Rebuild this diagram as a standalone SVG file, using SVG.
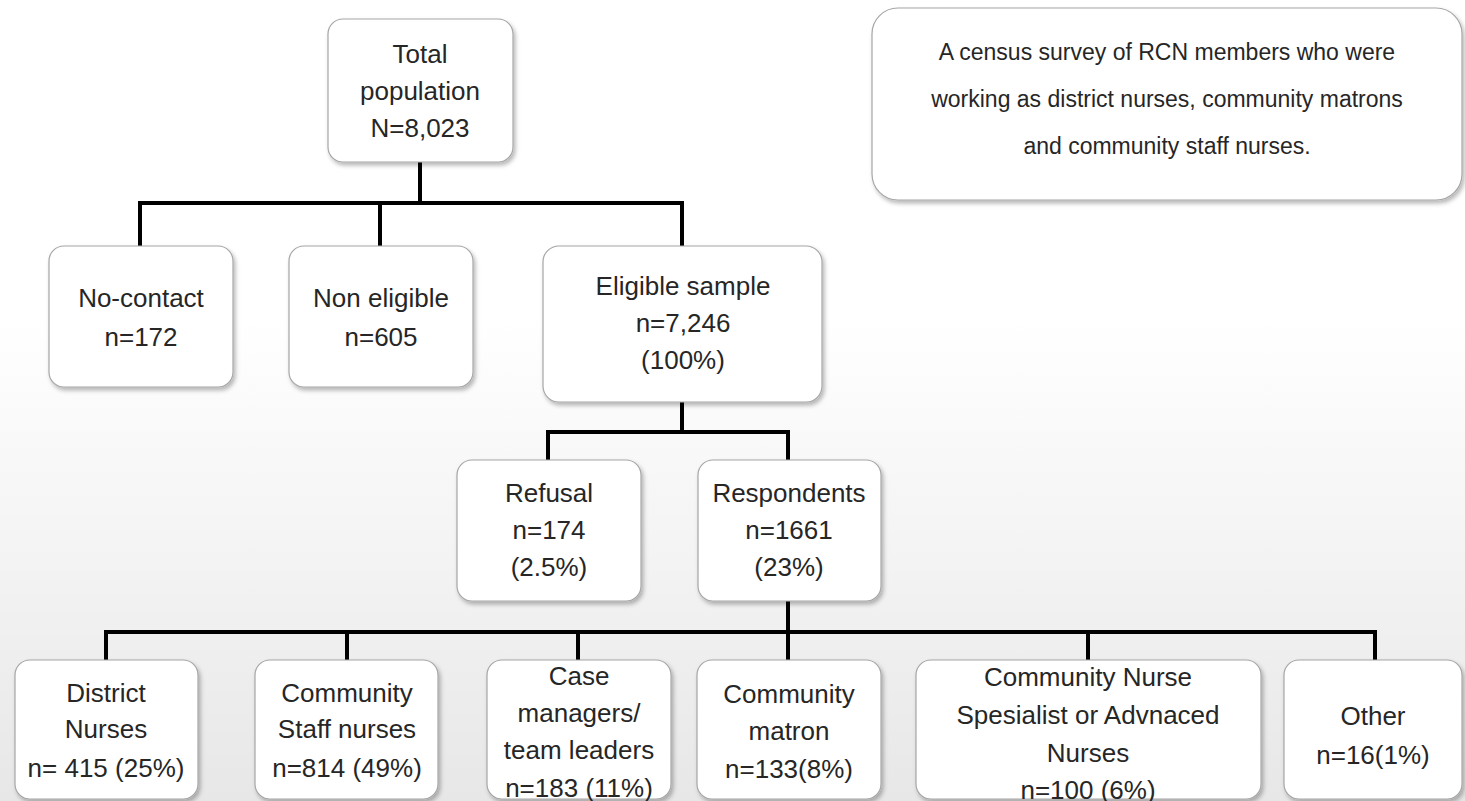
<svg xmlns="http://www.w3.org/2000/svg" width="1465" height="801" viewBox="0 0 1465 801">
<defs>
<linearGradient id="bg" x1="0" y1="0" x2="0" y2="1">
<stop offset="0" stop-color="#ffffff"/>
<stop offset="0.4" stop-color="#ffffff"/>
<stop offset="1" stop-color="#e7e7e7"/>
</linearGradient>
<filter id="sh" x="-10%" y="-10%" width="125%" height="130%">
<feDropShadow dx="2" dy="3" stdDeviation="2" flood-color="#000" flood-opacity="0.28"/>
</filter>
<style>
.box{fill:#ffffff;stroke:#a6a6a6;stroke-width:1.2;filter:url(#sh)}
.t{font-family:"Liberation Sans",Arial,sans-serif;font-size:26px;fill:#262626;text-anchor:middle}
.t2{font-family:"Liberation Sans",Arial,sans-serif;font-size:23px;fill:#262626;text-anchor:middle}
.c{fill:none;stroke:#000;stroke-width:4;stroke-linejoin:miter;stroke-linecap:square}
</style>
</defs>
<rect width="1465" height="801" fill="url(#bg)"/>
<g id="connectors">
<path class="c" d="M420,162 V203 M140,246 V203 H682 V246 M380,203 V246"/>
<path class="c" d="M682,402 V432 M548,460 V432 H788 V460"/>
<path class="c" d="M788,600 V632 M106,660 V632 H1375 V660 M347,632 V660 M578,632 V660 M788,632 V660 M1088,632 V660"/>
</g>
<g id="total">
<rect class="box" x="328" y="19" width="185" height="143" rx="15"/>
<text class="t" x="420" y="63">Total</text>
<text class="t" x="420" y="100">population</text>
<text class="t" x="420" y="137">N=8,023</text>
</g>
<g id="census-note">
<rect class="box" x="872" y="8" width="590" height="192" rx="26"/>
<text class="t2" x="1167" y="60">A census survey of RCN members who were</text>
<text class="t2" x="1167" y="107">working as district nurses, community matrons</text>
<text class="t2" x="1167" y="154">and community staff nurses.</text>
</g>
<g id="no-contact">
<rect class="box" x="49" y="246" width="184" height="141" rx="15"/>
<text class="t" x="141" y="307">No-contact</text>
<text class="t" x="141" y="346">n=172</text>
</g>
<g id="non-eligible">
<rect class="box" x="289" y="246" width="184" height="141" rx="15"/>
<text class="t" x="381" y="307">Non eligible</text>
<text class="t" x="381" y="346">n=605</text>
</g>
<g id="eligible">
<rect class="box" x="543" y="246" width="279" height="156" rx="16"/>
<text class="t" x="683" y="295">Eligible sample</text>
<text class="t" x="683" y="332">n=7,246</text>
<text class="t" x="683" y="369">(100%)</text>
</g>
<g id="refusal">
<rect class="box" x="457" y="460" width="184" height="141" rx="15"/>
<text class="t" x="549" y="502">Refusal</text>
<text class="t" x="549" y="539">n=174</text>
<text class="t" x="549" y="576">(2.5%)</text>
</g>
<g id="respondents">
<rect class="box" x="698" y="460" width="183" height="141" rx="15"/>
<text class="t" x="789" y="502">Respondents</text>
<text class="t" x="789" y="539">n=1661</text>
<text class="t" x="789" y="576">(23%)</text>
</g>
<g id="district-nurses">
<rect class="box" x="15" y="660" width="183" height="139" rx="15"/>
<text class="t" x="106" y="702">District</text>
<text class="t" x="106" y="738">Nurses</text>
<text class="t" x="106" y="777">n= 415 (25%)</text>
</g>
<g id="community-staff">
<rect class="box" x="255" y="660" width="183" height="139" rx="15"/>
<text class="t" x="347" y="702">Community</text>
<text class="t" x="347" y="738">Staff nurses</text>
<text class="t" x="347" y="777">n=814 (49%)</text>
</g>
<g id="case-managers">
<rect class="box" x="487" y="660" width="184" height="139" rx="15"/>
<text class="t" x="579" y="685">Case</text>
<text class="t" x="579" y="722">managers/</text>
<text class="t" x="579" y="759">team leaders</text>
<text class="t" x="579" y="797">n=183 (11%)</text>
</g>
<g id="community-matron">
<rect class="box" x="697" y="660" width="184" height="139" rx="15"/>
<text class="t" x="789" y="703">Community</text>
<text class="t" x="789" y="740">matron</text>
<text class="t" x="789" y="778">n=133(8%)</text>
</g>
<g id="community-nurse-specialist">
<rect class="box" x="916" y="660" width="345" height="139" rx="15"/>
<text class="t" x="1088" y="686">Community Nurse</text>
<text class="t" x="1088" y="724">Spesialist or Advnaced</text>
<text class="t" x="1088" y="762">Nurses</text>
<text class="t" x="1088" y="799">n=100 (6%)</text>
</g>
<g id="other">
<rect class="box" x="1284" y="660" width="178" height="139" rx="15"/>
<text class="t" x="1373" y="725">Other</text>
<text class="t" x="1373" y="764">n=16(1%)</text>
</g>
</svg>
